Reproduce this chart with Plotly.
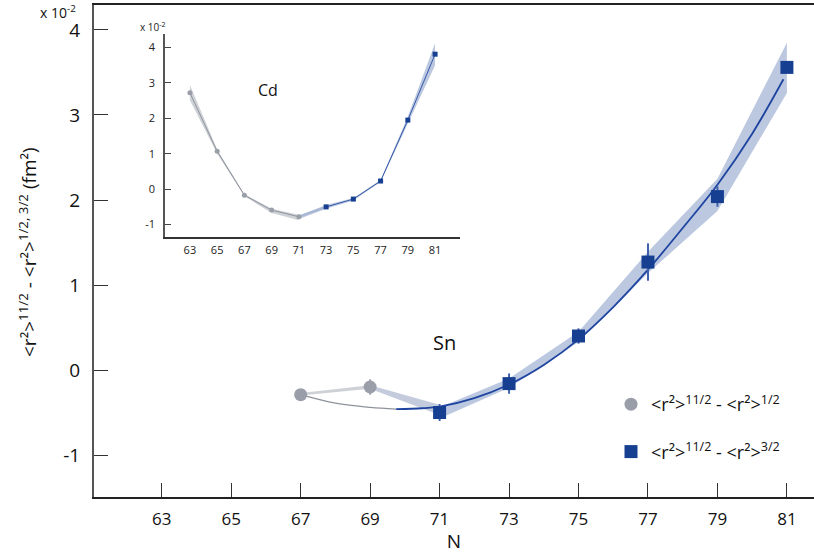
import plotly.graph_objects as go

# ---------------- data: main (Sn) ----------------
sn_grey_N = [67, 69]
sn_grey_val = [-0.29, -0.20]
sn_grey_err = [0.0, 0.09]

sn_blue_N = [71, 73, 75, 77, 79, 81]
sn_blue_val = [-0.50, -0.16, 0.40, 1.27, 2.04, 3.56]
sn_blue_err = [0.10, 0.12, 0.09, 0.22, 0.12, 0.0]

sn_gband_N = [67, 69, 71]
sn_gband_lo = [-0.30, -0.22, -0.53]
sn_gband_hi = [-0.27, -0.18, -0.41]

sn_bband_N = [71, 73, 75, 77, 79, 81]
sn_bband_lo = [-0.57, -0.21, 0.33, 1.14, 1.87, 3.26]
sn_bband_hi = [-0.44, -0.10, 0.45, 1.39, 2.25, 3.85]

fit_grey_N = [67, 68, 69, 69.75]
fit_grey_val = [-0.29, -0.39, -0.44, -0.46]
fit_blue_N = [69.75, 70.5, 71, 72, 73, 74, 75, 76, 77, 78, 79, 80, 80.9]
fit_blue_val = [-0.46, -0.45, -0.43, -0.33, -0.17, 0.06, 0.36, 0.74, 1.18, 1.67, 2.18, 2.78, 3.42]

main_xticks = [63, 65, 67, 69, 71, 73, 75, 77, 79, 81]
main_yticks = [-1, 0, 1, 2, 3, 4]
main_yticklabels = ["-1", "0", "1", "2", "3", "4"]

# ---------------- data: inset (Cd) ----------------
cd_grey_N = [63, 65, 67, 69, 71]
cd_grey_val = [2.72, 1.07, -0.17, -0.59, -0.78]
cd_blue_N = [73, 75, 77, 79, 81]
cd_blue_val = [-0.50, -0.28, 0.23, 1.95, 3.81]

cd_gband_N = [63, 65, 67, 69, 71]
cd_gband_lo = [2.51, 1.00, -0.20, -0.67, -0.88]
cd_gband_hi = [2.94, 1.12, -0.14, -0.55, -0.72]
cd_bband_N = [71, 73, 75, 77, 79, 81]
cd_bband_lo = [-0.84, -0.55, -0.32, 0.20, 1.85, 3.50]
cd_bband_hi = [-0.74, -0.45, -0.25, 0.26, 2.05, 4.12]

cd_link_N = [71, 73]
cd_link_val = [-0.78, -0.50]

inset_xticks = [63, 65, 67, 69, 71, 73, 75, 77, 79, 81]
inset_yticks = [-1, 0, 1, 2, 3, 4]
inset_yticklabels = ["-1", "0", "1", "2", "3", "4"]

legend_labels = [
    "&lt;r²&gt;<sup>11/2</sup> - &lt;r²&gt;<sup>1/2</sup>",
    "&lt;r²&gt;<sup>11/2</sup> - &lt;r²&gt;<sup>3/2</sup>",
]

# ---------------- styles ----------------
FONT = "Open Sans"
BLUE = "#163F92"
BLUE_LINE = "#1E44A0"
BLUE_BAND = "rgba(150,170,208,0.65)"
GREY = "#9A9EA8"
GREY_LINE = "#8E939C"
GREY_BAND = "rgba(190,193,200,0.75)"
AXIS = "#555555"


def band(xs, lo, hi):
    return list(xs) + list(xs)[::-1], list(hi) + list(lo)[::-1]


def segs(xs, vals, errs):
    X, Y = [], []
    for x, v, e in zip(xs, vals, errs):
        if e > 0:
            X += [x, x, None]
            Y += [v - e, v + e, None]
    return X, Y


fig = go.Figure()

# main bands
bx, by = band(sn_gband_N[:2], sn_gband_lo[:2], sn_gband_hi[:2])
fig.add_trace(go.Scatter(x=bx, y=by, fill="toself", fillcolor=GREY_BAND,
                         line=dict(width=0), mode="lines", showlegend=False, hoverinfo="skip"))
bx, by = band(sn_gband_N[1:], sn_gband_lo[1:], sn_gband_hi[1:])
fig.add_trace(go.Scatter(x=bx, y=by, fill="toself", fillcolor="rgba(175,185,208,0.75)",
                         line=dict(width=0), mode="lines", showlegend=False, hoverinfo="skip"))
bx, by = band(sn_bband_N, sn_bband_lo, sn_bband_hi)
fig.add_trace(go.Scatter(x=bx, y=by, fill="toself", fillcolor=BLUE_BAND,
                         line=dict(width=0), mode="lines", showlegend=False, hoverinfo="skip"))

# fit curves
fig.add_trace(go.Scatter(x=fit_grey_N, y=fit_grey_val, mode="lines",
                         line=dict(color=GREY_LINE, width=1.2, shape="spline"),
                         showlegend=False, hoverinfo="skip"))
fig.add_trace(go.Scatter(x=fit_blue_N, y=fit_blue_val, mode="lines",
                         line=dict(color=BLUE_LINE, width=1.8, shape="spline"),
                         showlegend=False, hoverinfo="skip"))

# error bars
ex, ey = segs(sn_grey_N, sn_grey_val, sn_grey_err)
fig.add_trace(go.Scatter(x=ex, y=ey, mode="lines", line=dict(color=GREY, width=2),
                         showlegend=False, hoverinfo="skip"))
ex, ey = segs(sn_blue_N, sn_blue_val, sn_blue_err)
fig.add_trace(go.Scatter(x=ex, y=ey, mode="lines", line=dict(color="#4162AC", width=2),
                         showlegend=False, hoverinfo="skip"))

# markers
fig.add_trace(go.Scatter(x=sn_grey_N, y=sn_grey_val, mode="markers", name=legend_labels[0],
                         marker=dict(symbol="circle", size=13, color=GREY),
                         legendgroup="a"))
fig.add_trace(go.Scatter(x=sn_blue_N, y=sn_blue_val, mode="markers", name=legend_labels[1],
                         marker=dict(symbol="square", size=13, color=BLUE),
                         legendgroup="b"))

# ---------------- inset ----------------
bx, by = band(cd_gband_N, cd_gband_lo, cd_gband_hi)
fig.add_trace(go.Scatter(x=bx, y=by, fill="toself", fillcolor=GREY_BAND, xaxis="x2", yaxis="y2",
                         line=dict(width=0), mode="lines", showlegend=False, hoverinfo="skip"))
bx, by = band(cd_bband_N, cd_bband_lo, cd_bband_hi)
fig.add_trace(go.Scatter(x=bx, y=by, fill="toself", fillcolor=BLUE_BAND, xaxis="x2", yaxis="y2",
                         line=dict(width=0), mode="lines", showlegend=False, hoverinfo="skip"))
fig.add_trace(go.Scatter(x=cd_grey_N, y=cd_grey_val, mode="lines", xaxis="x2", yaxis="y2",
                         line=dict(color=GREY_LINE, width=1), showlegend=False, hoverinfo="skip"))
fig.add_trace(go.Scatter(x=cd_link_N, y=cd_link_val, mode="lines", xaxis="x2", yaxis="y2",
                         line=dict(color="#A9B6D2", width=2), showlegend=False, hoverinfo="skip"))
fig.add_trace(go.Scatter(x=cd_blue_N, y=cd_blue_val, mode="lines", xaxis="x2", yaxis="y2",
                         line=dict(color="#3558A8", width=1), showlegend=False, hoverinfo="skip"))
fig.add_trace(go.Scatter(x=cd_grey_N, y=cd_grey_val, mode="markers", xaxis="x2", yaxis="y2",
                         marker=dict(symbol="circle", size=5, color=GREY), showlegend=False))
fig.add_trace(go.Scatter(x=cd_blue_N, y=cd_blue_val, mode="markers", xaxis="x2", yaxis="y2",
                         marker=dict(symbol="square", size=5, color=BLUE), showlegend=False))

# ---------------- layout ----------------
W, H = 814, 554
ML, MR, MT, MB = 94, 0, 5, 57
PW, PH = W - ML - MR, H - MT - MB


def px(x):
    return (x - ML) / PW


def py(y):
    return (H - MB - y) / PH


fig.update_layout(
    width=W, height=H,
    margin=dict(l=ML, r=MR, t=MT, b=MB, pad=0),
    paper_bgcolor="white", plot_bgcolor="rgba(0,0,0,0)",
    font=dict(family=FONT, color="#111111", size=16),
    xaxis=dict(range=[61.05, 81.78], tickvals=main_xticks, ticks="inside", ticklen=14,
               tickwidth=1.2, tickcolor="#333333", showline=True, linecolor="#222222",
               linewidth=1.6, mirror=True, showgrid=False, zeroline=False,
               tickfont=dict(size=17, family=FONT, color="#111111"), ticklabelstandoff=6,
               title=dict(text="N", font=dict(size=19, family=FONT), standoff=0)),
    yaxis=dict(range=[-1.494, 4.294], tickvals=main_yticks, ticktext=main_yticklabels,
               ticks="inside", ticklen=14, tickwidth=1.2, tickcolor="#333333",
               showline=True, linecolor=AXIS, linewidth=2, showgrid=False, zeroline=False,
               tickfont=dict(size=19, family=FONT, color="#111111"), ticklabelstandoff=8),
    xaxis2=dict(domain=[px(165), px(460)], anchor="y2", range=[61.17, 82.83],
                tickvals=inset_xticks, ticks="", showline=True, linecolor="#333333",
                linewidth=1.5, showgrid=False, zeroline=False,
                tickfont=dict(size=11, family=FONT, color="#222222"), ticklabelstandoff=2),
    yaxis2=dict(domain=[py(237), py(34)], anchor="x2", range=[-1.35, 4.38],
                tickvals=inset_yticks, ticktext=inset_yticklabels, ticks="inside", ticklen=6,
                tickcolor="#444444", showline=True, linecolor="#555555", linewidth=1.5,
                showgrid=False, zeroline=False,
                tickfont=dict(size=11, family=FONT, color="#222222"), ticklabelstandoff=6),
    legend=dict(x=px(611), y=py(386), xanchor="left", yanchor="top",
                bgcolor="rgba(0,0,0,0)", font=dict(size=18, family=FONT, color="#111111"),
                tracegroupgap=21, itemsizing="trace"),
    showlegend=True,
)

annotations = [
    dict(text="&lt;r²&gt;<sup>11/2</sup> - &lt;r²&gt;<sup>1/2, 3/2</sup> (fm²)",
         xref="paper", yref="paper", x=px(28), y=py(252), textangle=-90,
         showarrow=False, font=dict(size=19, family=FONT, color="#111111"),
         xanchor="center", yanchor="middle"),
    dict(text="x 10<sup>-2</sup>", xref="paper", yref="paper", x=px(38), y=py(12),
         showarrow=False, font=dict(size=14, family=FONT, color="#111111"),
         xanchor="left", yanchor="middle"),
    dict(text="x 10<sup>-2</sup>", xref="paper", yref="paper", x=px(138), y=py(27),
         showarrow=False, font=dict(size=10, family=FONT, color="#222222"),
         xanchor="left", yanchor="middle"),
    dict(text="Sn", xref="x", yref="y", x=71.15, y=0.32, showarrow=False,
         font=dict(size=20, family=FONT, color="#111111"), xanchor="center", yanchor="middle"),
    dict(text="Cd", xref="x2", yref="y2", x=68.7, y=2.8, showarrow=False,
         font=dict(size=16, family=FONT, color="#111111"), xanchor="center", yanchor="middle"),
]
fig.update_layout(annotations=annotations)

fig.write_html("out.html", config={"displayModeBar": False},
               post_script="document.body.style.margin='0px';document.body.style.overflow='hidden';")
